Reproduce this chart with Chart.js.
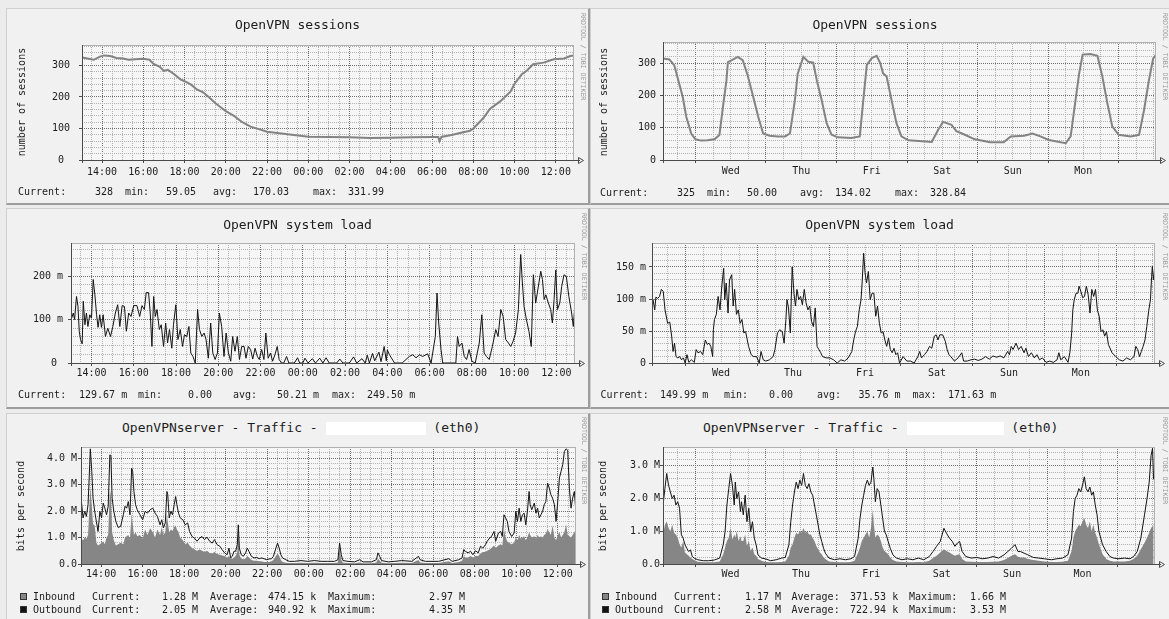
<!DOCTYPE html>
<html><head><meta charset="utf-8">
<script src="https://cdn.jsdelivr.net/npm/chart.js@4/dist/chart.umd.min.js"></script>
<style>
html,body{margin:0;padding:0;background:#ececec;width:1169px;height:619px;overflow:hidden;position:relative;font-family:'DejaVu Sans Mono',monospace;}
.panel{position:absolute;background:#f1f1f1;box-sizing:border-box;border-top:1px solid #d0d0d0;border-left:1px solid #d0d0d0;border-right:2px solid #9c9c9c;border-bottom:2px solid #9c9c9c;}
.t{position:absolute;white-space:pre;color:#1c1c1c;z-index:3;}
.wm{position:absolute;writing-mode:vertical-rl;font-size:6.6px;line-height:7px;color:#9a9a9a;white-space:pre;z-index:3;}
.sq{position:absolute;width:5px;height:5px;border:1px solid #333;z-index:3;}
canvas{position:absolute;z-index:2;}
.hb{display:inline-block;background:#fff;vertical-align:middle;}
</style>
</head><body>
<script>
// ---------------- DATA ----------------
// hour axis for 1-day graphs (24 = 00:00 next day), day axis for week graphs (0 = Wed 00:00)
const dayTickHours  = [14,16,18,20,22,24,26,28,30,32,34,36];
const dayTickLabels = ['14:00','16:00','18:00','20:00','22:00','00:00','02:00','04:00','06:00','08:00','10:00','12:00'];
const weekLabelPos  = [0.5,1.5,2.5,3.5,4.5,5.5];
const weekLabels    = ['Wed','Thu','Fri','Sat','Sun','Mon'];

const sessYTicks = [0,100,200,300];
const sessYLabelsDay = ['0 ','100','200','300'];
const sessYLabelsWeek = ['0','100','200','300'];
const loadDayYTicks = [0,100,200];
const loadDayYLabels = ['0 ','100 m','200 m'];
const loadWeekYTicks = [0,50,100,150];
const loadWeekYLabels = ['0','50 m','100 m','150 m'];
const trafDayYTicks = [0,1,2,3,4];
const trafDayYLabels = ['0.0','1.0 M','2.0 M','3.0 M','4.0 M'];
const trafWeekYTicks = [0,1,2,3];
const trafWeekYLabels = ['0.0','1.0 M','2.0 M','3.0 M'];

// OpenVPN sessions, 1 day
const sessDayT = [13.05,13.3,13.6,13.9,14.1,14.4,14.7,15.0,15.3,15.6,16.0,16.3,16.5,16.8,17.0,17.2,17.5,17.8,18.0,18.3,18.6,18.9,19.2,19.5,19.8,20.0,20.4,20.8,21.2,21.6,22.0,22.5,23.0,23.5,24.0,25.0,26.0,27.0,28.0,29.0,30.0,30.3,30.36,30.45,31.0,31.5,31.84,32.0,32.5,32.8,33.3,33.8,34.0,34.35,34.6,34.9,35.4,35.9,36.4,36.7,36.88];
const sessDayV = [325,322,318,328,332,330,324,322,318,320,321,318,305,296,283,286,272,256,250,240,224,215,198,180,165,155,140,120,106,98,90,86,82,78,74,73,72,70,71,72,73,73,60,73,80,88,93,100,134,162,186,217,242,272,284,304,309,320,322,330,332];

// OpenVPN sessions, 1 week
const sessWeekT = [-0.46,-0.37,-0.30,-0.23,-0.18,-0.13,-0.06,0.0,0.08,0.17,0.27,0.34,0.39,0.44,0.46,0.51,0.6,0.67,0.74,0.82,0.89,0.96,1.05,1.17,1.27,1.34,1.41,1.45,1.53,1.6,1.67,1.72,1.79,1.86,1.93,2.02,2.21,2.33,2.38,2.43,2.5,2.57,2.62,2.66,2.71,2.78,2.85,2.92,3.02,3.35,3.44,3.51,3.63,3.70,3.82,3.96,4.18,4.37,4.47,4.66,4.78,4.89,5.01,5.25,5.32,5.37,5.44,5.49,5.6,5.7,5.77,5.84,5.91,6.0,6.17,6.29,6.36,6.43,6.49,6.53];
const sessWeekV = [314,311,293,236,195,134,82,64,60,61,64,77,164,247,303,308,319,309,262,195,134,82,75,73,73,82,185,267,319,304,301,247,185,114,78,70,68,73,185,294,315,322,300,268,258,186,114,73,61,56,93,118,109,89,78,64,55,55,73,75,82,73,62,52,73,154,267,326,328,322,258,176,104,78,73,78,154,247,314,325];

// OpenVPN system load, 1 day (milli)
const loadDayT = [13.06,13.14,13.2,13.29,13.36,13.42,13.48,13.56,13.61,13.69,13.76,13.83,13.92,14.0,
14.08,14.16,14.24,14.31,14.39,14.47,14.55,14.66,14.77,14.9,15.01,
15.13,15.24,15.34,15.45,15.56,15.65,15.76,15.87,16.0,
16.15,16.28,16.39,16.5,16.59,16.7,16.78,16.86,16.94,17.02,
17.1,17.21,17.3,17.41,17.51,17.6,17.69,17.8,17.88,17.99,
18.09,18.2,18.31,18.4,18.51,18.61,18.7,18.8,18.91,19.02,
19.11,19.22,19.33,19.42,19.53,19.64,19.74,19.85,19.96,20.05,
20.16,20.27,20.37,20.48,20.59,20.68,20.79,20.9,21.0,
21.11,21.22,21.31,21.42,21.53,21.63,21.74,21.85,21.94,22.05,
22.16,22.25,22.36,22.47,22.57,22.68,22.79,22.88,22.99,23.1,23.23,23.34,
23.6,23.75,23.85,24.0,24.1,24.25,24.45,24.6,24.8,24.95,25.1,25.25,25.6,25.75,25.9,26.2,26.4,26.55,26.8,26.95,27.05,27.15,27.3,27.4,27.6,27.7,27.85,27.95,28.0,28.1,
28.34,28.7,29.04,29.2,29.36,29.52,29.67,29.91,30.07,30.27,30.35,30.43,30.54,30.62,
31.24,31.32,31.4,31.53,31.64,31.75,31.87,32.0,32.16,32.35,32.47,32.58,32.69,32.82,32.97,
33.13,33.24,33.37,33.48,33.6,33.73,33.84,33.95,34.07,34.2,34.31,34.39,34.47,34.58,34.7,34.81,34.91,
35.02,35.26,35.34,35.42,35.5,35.62,35.73,35.81,35.89,35.97,36.05,36.16,36.25,36.36,36.47,36.59,36.72,36.8,36.87];
const loadDayV = [103,115,100,153,130,73,54,44,142,88,115,84,111,103,
192,157,111,82,111,82,111,61,80,61,84,
115,134,84,132,130,73,115,107,132,
132,107,132,123,162,162,115,38,153,107,
123,77,88,38,92,46,77,34,88,134,
54,77,38,65,61,84,23,15,0,123,
77,61,69,54,11,92,23,8,23,115,
84,15,69,23,4,61,27,61,8,
38,38,11,38,31,9,34,15,8,31,
8,69,11,23,4,19,38,8,0,0,15,0,
0,12,0,0,11,0,10,0,11,0,12,0,0,9,0,0,14,0,10,0,18,0,22,5,25,3,38,5,30,19,
0,0,15,19,12,19,15,21,0,61,161,92,31,0,
0,61,38,46,15,8,31,4,0,46,111,23,15,8,38,
77,61,123,107,54,46,38,50,69,123,249.5,184,130,100,73,38,203,
138,211,192,146,157,138,123,92,146,214,123,138,176,203,199,153,115,84,130];

// OpenVPN system load, 1 week (milli)
const loadWeekT = [-0.447,-0.422,-0.406,-0.381,-0.355,-0.330,-0.304,-0.279,-0.243,-0.213,-0.187,-0.167,-0.147,-0.126,-0.101,-0.075,-0.050,-0.024,0.001,
0.026,0.052,0.088,0.128,0.154,0.179,0.215,0.245,0.281,0.307,0.332,0.357,0.383,0.393,0.408,0.434,0.459,0.485,0.510,0.536,
0.551,0.571,0.597,0.617,0.648,0.668,0.688,0.714,0.739,0.765,0.790,0.816,0.841,0.882,0.918,0.953,0.994,1.030,1.055,1.086,
1.121,1.172,1.223,1.248,1.284,1.315,1.350,1.376,1.401,1.416,1.437,1.462,1.488,1.513,1.534,1.554,1.580,1.605,1.630,1.656,
1.681,1.707,1.732,1.757,1.783,1.808,1.834,1.859,1.885,1.910,1.961,2.012,2.063,2.114,2.165,2.216,2.267,2.317,2.343,2.368,
2.394,2.420,2.445,2.460,2.481,2.501,2.521,2.547,2.572,2.598,2.623,2.649,2.674,2.700,2.725,2.751,2.776,2.801,2.827,2.852,
2.878,2.903,2.929,2.954,2.980,3.030,3.081,3.132,3.183,3.234,3.260,3.285,3.326,3.361,3.397,3.428,3.463,3.489,3.514,3.539,
3.580,3.616,3.641,3.667,3.692,3.743,3.794,3.845,3.870,3.921,3.972,4.023,4.074,4.125,4.176,4.227,4.278,4.328,4.379,4.430,
4.481,4.507,4.532,4.558,4.599,4.634,4.670,4.711,4.736,4.772,4.812,4.853,4.889,4.925,4.965,5.016,5.067,5.118,5.169,5.194,
5.220,5.271,5.321,5.347,5.372,5.388,5.408,5.433,5.459,5.474,5.500,5.525,5.550,5.576,5.601,5.627,5.652,5.678,5.703,5.729,
5.754,5.780,5.805,5.831,5.856,5.882,5.933,5.984,6.035,6.085,6.136,6.187,6.238,6.264,6.289,6.315,6.340,6.365,6.391,6.416,
6.442,6.467,6.483,6.493,6.508,6.524,6.53];
const loadWeekV = [100,83,103,101,104,115,112,83,62,64,42,18,31,10,8,10,5,8,0,
13,1,5,1,21,16,18,13,36,29,31,26,10,52,68,76,104,83,120,148,
99,125,78,130,138,89,115,76,83,62,68,47,49,26,13,10,10,0,18,5,
3,5,10,21,47,52,49,31,68,99,86,47,150,109,89,115,99,104,91,115,
94,83,89,65,57,86,26,21,16,10,8,8,5,0,5,3,8,18,36,49,
57,83,99,125,171.6,141,125,143,99,109,109,73,89,62,47,49,36,26,39,21,
16,23,13,16,0,10,3,3,0,10,18,8,13,18,26,23,42,44,36,44,
44,34,21,13,10,3,8,16,3,3,5,6,4,6,10,6,11,9,11,8,
18,13,26,21,31,21,26,16,23,10,16,8,13,5,8,1,3,1,5,16,
5,10,1,16,47,83,99,109,109,120,112,102,104,120,107,78,115,104,115,83,
73,49,52,42,49,29,16,10,5,3,8,5,10,26,21,10,18,26,36,57,
81,99,135,151,130,146,150];

// Traffic eth0, 1 day (Mbit/s)
const trafDayT = [13.05,13.13,13.21,13.29,13.37,13.45,13.48,13.55,13.61,13.69,
13.77,13.85,13.94,14.02,14.1,14.18,14.26,14.34,14.42,14.47,
14.53,14.61,14.71,14.82,14.94,15.07,15.15,15.23,15.31,15.39,
15.47,15.52,15.58,15.66,15.74,15.87,16.0,16.12,16.23,16.36,
16.49,16.6,16.71,16.84,16.92,17.0,17.09,17.17,17.21,17.28,
17.36,17.44,17.52,17.59,17.65,17.73,17.81,17.94,18.05,18.17,
18.26,18.38,18.49,18.62,18.75,18.86,18.98,19.1,19.23,19.35,
19.46,19.59,19.72,19.83,19.95,20.07,20.16,20.24,20.32,20.4,
20.48,20.56,20.61,20.66,20.75,20.85,20.96,21.04,21.12,21.24,
21.37,21.5,21.61,21.72,21.85,21.98,22.09,22.21,22.3,22.42,
22.5,22.58,22.66,22.74,22.9,23.06,23.31,23.63,23.95,24.27,
24.6,24.92,25.24,25.41,25.49,25.57,25.65,25.89,26.21,26.46,
26.62,27.02,27.26,27.34,27.42,27.51,27.83,28.15,28.48,28.97,
29.29,29.37,29.62,30.26,30.75,30.91,31.23,31.39,31.47,31.55,
31.68,31.8,31.91,32.04,32.17,32.28,32.39,32.52,32.6,32.72,
32.81,32.93,33.01,33.14,33.25,33.33,33.41,33.49,33.57,33.65,
33.78,33.9,33.98,34.06,34.14,34.22,34.3,34.38,34.46,34.54,
34.62,34.67,34.75,34.87,34.95,35.03,35.11,35.19,35.27,35.35,
35.43,35.51,35.59,35.67,35.75,35.84,35.92,36.0,36.08,36.16,
36.24,36.32,36.4,36.48,36.56,36.64,36.72,36.8,36.87];
const trafDayOut = [2.36,1.74,1.99,1.8,2.24,3.75,4.35,3.5,2.49,1.99,
1.61,1.23,1.99,1.74,2.3,2.11,1.86,2.18,4.12,4.1,
2.49,1.99,1.61,1.38,1.42,1.86,2.18,2.11,2.36,1.86,
3.62,3.5,2.74,2.24,2.05,1.86,1.67,1.99,1.92,2.05,
2.11,1.92,1.8,1.48,1.67,1.36,1.55,2.74,2.62,1.74,
1.99,1.86,2.24,2.55,2.24,1.92,1.74,1.67,1.48,1.55,
1.23,1.04,0.98,0.86,0.98,1.04,0.92,1.01,0.86,0.79,
0.92,0.73,0.67,0.54,0.42,0.35,0.6,0.23,0.29,0.48,
0.48,0.73,1.48,0.6,0.35,0.29,0.42,0.6,0.48,0.29,
0.23,0.25,0.2,0.23,0.2,0.16,0.19,0.2,0.29,0.6,
0.79,0.6,0.35,0.23,0.16,0.1,0.1,0.13,0.1,0.13,
0.1,0.1,0.1,0.16,0.79,0.35,0.13,0.1,0.08,0.16,
0.08,0.08,0.16,0.42,0.29,0.13,0.08,0.1,0.13,0.1,
0.29,0.16,0.1,0.1,0.2,0.1,0.16,0.23,0.54,0.48,
0.42,0.48,0.35,0.5,0.42,0.67,0.6,0.73,0.86,0.98,
1.04,1.23,0.86,1.17,1.23,1.04,1.86,1.74,1.61,1.23,
1.04,1.17,1.99,1.61,2.11,1.61,1.86,1.92,1.48,1.99,
2.74,2.24,2.05,2.3,1.92,2.11,1.74,1.86,1.99,2.24,
2.36,3.06,2.87,2.62,2.49,2.24,1.61,2.36,3.25,3.5,
3.75,4.25,4.35,4.3,2.87,2.11,2.49,2.74,2.05];
const trafDayIn = [0.95,0.9,1.0,0.95,1.1,2.4,2.9,2.2,1.5,1.45,
0.8,0.7,0.75,0.8,0.85,0.75,1.0,1.1,2.8,2.6,
1.2,0.9,0.7,0.75,0.8,0.75,1.0,1.05,1.1,0.95,
1.9,1.5,1.1,1.2,1.05,1.1,0.95,1.3,1.1,1.35,
1.2,1.0,1.3,1.1,1.4,1.1,1.2,1.9,1.6,1.2,
1.3,1.25,1.4,1.45,1.3,1.2,1.0,0.9,0.75,0.8,
0.7,0.6,0.55,0.5,0.55,0.5,0.45,0.5,0.42,0.4,
0.45,0.38,0.35,0.32,0.3,0.25,0.3,0.2,0.2,0.25,
0.3,0.45,1.2,0.35,0.2,0.18,0.2,0.3,0.25,0.15,
0.12,0.12,0.1,0.1,0.08,0.08,0.08,0.1,0.15,0.3,
0.4,0.3,0.15,0.08,0.05,0.04,0.04,0.05,0.04,0.05,
0.04,0.04,0.04,0.06,0.6,0.15,0.05,0.04,0.03,0.06,
0.03,0.03,0.06,0.2,0.12,0.05,0.03,0.04,0.05,0.04,
0.15,0.06,0.04,0.04,0.1,0.04,0.08,0.12,0.3,0.25,
0.25,0.3,0.25,0.3,0.3,0.4,0.45,0.45,0.5,0.55,
0.6,0.7,0.6,0.7,0.75,0.7,1.3,1.0,0.85,0.8,
0.75,0.8,1.0,0.9,1.1,0.95,1.0,1.05,0.9,1.0,
1.2,1.1,1.0,1.05,0.95,1.1,1.0,1.05,1.0,1.1,
1.15,1.3,1.2,1.1,1.45,1.0,0.9,1.1,1.2,1.0,
1.1,1.2,1.5,1.1,1.05,1.0,1.1,1.2,1.28];

// Traffic eth0, 1 week (Mbit/s)
const trafWeekT = [-0.459,-0.433,-0.407,-0.381,-0.355,-0.329,-0.303,-0.277,-0.251,-0.225,
-0.199,-0.174,-0.148,-0.122,-0.096,-0.070,-0.044,-0.018,0.034,0.111,
0.189,0.267,0.345,0.396,0.422,0.448,0.474,0.500,0.526,0.552,
0.567,0.588,0.614,0.640,0.655,0.681,0.707,0.733,0.759,0.785,
0.811,0.837,0.863,0.889,0.940,0.992,1.070,1.148,1.225,1.277,
1.329,1.355,1.381,1.407,1.433,1.459,1.484,1.510,1.536,1.562,
1.588,1.614,1.640,1.666,1.692,1.718,1.744,1.769,1.795,1.821,
1.847,1.899,1.977,2.054,2.132,2.210,2.262,2.313,2.339,2.365,
2.391,2.417,2.443,2.469,2.495,2.521,2.536,2.557,2.583,2.609,
2.635,2.661,2.687,2.712,2.738,2.769,2.806,2.857,2.935,3.013,
3.090,3.168,3.246,3.324,3.376,3.427,3.479,3.531,3.567,3.609,
3.650,3.687,3.723,3.754,3.790,3.842,3.920,3.997,4.075,4.153,
4.231,4.308,4.386,4.438,4.490,4.541,4.583,4.619,4.671,4.723,
4.800,4.878,4.956,5.060,5.137,5.215,5.293,5.345,5.371,5.396,
5.422,5.448,5.474,5.500,5.526,5.552,5.578,5.604,5.630,5.655,
5.681,5.707,5.733,5.759,5.785,5.837,5.889,5.940,6.018,6.096,
6.174,6.226,6.277,6.329,6.381,6.417,6.448,6.474,6.495,6.510];
const trafWeekOut = [1.8,2.3,2.76,2.4,2.2,2.0,2.1,1.8,1.9,1.7,
0.89,0.79,0.59,0.48,0.38,0.43,0.23,0.18,0.13,0.1,
0.1,0.12,0.18,0.59,0.99,1.8,2.3,2.76,2.4,1.8,
2.5,2.0,2.2,1.6,1.9,1.5,2.1,1.29,1.7,0.99,
1.29,0.79,0.59,0.28,0.18,0.16,0.1,0.13,0.18,0.2,
0.59,1.29,1.8,2.2,2.5,2.3,2.56,2.4,2.76,2.4,
2.3,2.45,2.2,2.1,1.8,1.5,1.19,0.89,0.69,0.48,
0.33,0.18,0.13,0.16,0.13,0.16,0.23,0.79,1.39,1.8,
2.1,2.4,2.56,2.4,2.5,2.96,2.6,1.9,2.3,2.2,
1.8,1.39,0.99,0.89,0.69,0.48,0.28,0.18,0.13,0.16,
0.13,0.18,0.13,0.23,0.38,0.54,0.69,1.09,0.94,0.79,
0.69,0.54,0.64,0.69,0.38,0.23,0.18,0.2,0.16,0.18,
0.23,0.18,0.28,0.38,0.48,0.59,0.38,0.38,0.33,0.28,
0.2,0.18,0.16,0.13,0.16,0.18,0.28,0.79,1.6,2.0,
2.1,2.3,2.2,2.4,2.66,2.3,2.2,2.35,2.1,2.2,
1.8,1.5,0.99,0.79,0.59,0.38,0.23,0.18,0.16,0.18,
0.16,0.23,0.38,0.79,1.5,2.0,2.5,3.31,3.53,2.58];
const trafWeekIn = [0.9,1.2,1.3,1.1,1.0,1.2,0.95,0.9,0.8,0.6,
0.5,0.7,0.35,0.3,0.25,0.2,0.15,0.12,0.07,0.05,
0.05,0.05,0.08,0.3,0.5,0.7,0.8,1.1,0.75,0.9,
0.8,1.0,0.7,0.85,0.7,0.7,0.9,0.55,0.7,0.4,
0.5,0.3,0.25,0.15,0.1,0.06,0.05,0.05,0.06,0.08,
0.25,0.5,0.6,0.8,0.95,0.9,1.0,0.95,1.1,0.95,
1.0,0.9,0.9,0.8,0.7,0.55,0.45,0.35,0.3,0.2,
0.15,0.08,0.06,0.05,0.05,0.06,0.1,0.35,0.5,0.7,
0.8,0.9,1.0,0.8,1.1,1.66,1.2,0.8,0.9,0.85,
0.7,0.5,0.4,0.35,0.3,0.2,0.12,0.08,0.06,0.05,
0.05,0.06,0.05,0.1,0.18,0.25,0.35,0.45,0.4,0.35,
0.3,0.25,0.28,0.3,0.15,0.08,0.07,0.06,0.06,0.06,
0.07,0.08,0.12,0.18,0.25,0.3,0.22,0.2,0.2,0.15,
0.12,0.1,0.08,0.06,0.06,0.07,0.1,0.4,0.8,1.0,
1.1,1.2,1.15,1.3,1.4,1.2,1.1,1.3,1.0,1.2,
0.95,0.8,0.6,0.45,0.3,0.15,0.1,0.08,0.08,0.08,
0.1,0.15,0.25,0.45,0.65,0.8,0.95,1.1,1.15,1.17];

// ---------------- RENDERING ----------------
const MAJOR='#6e6e6e', MINOR='#b2b2b2', AXIS='#4a4a4a', PLOTBG='#f6f6f6', TXT='#1c1c1c';
Chart.defaults.font.family="'DejaVu Sans Mono', monospace";
Chart.defaults.font.size=10;
Chart.defaults.color=TXT;

function isMult(v,s){const r=v/s;return Math.abs(r-Math.round(r))<1e-6;}
function range(a,b,s){const o=[];const k0=Math.ceil(a/s-1e-9),k1=Math.floor(b/s+1e-9);for(let k=k0;k<=k1;k++)o.push(+(k*s).toFixed(6));return o;}
function lookup(v,pos,lab){for(let i=0;i<pos.length;i++)if(Math.abs(pos[i]-v)<1e-6)return lab[i];return '';}
function pts(T,V){return T.map((t,i)=>({x:t,y:V[i]}));}

const rrdPlugin={id:'rrd',
  beforeDraw(ch){const c=ch.ctx,a=ch.chartArea;c.save();c.fillStyle=PLOTBG;c.fillRect(a.left,a.top,a.right-a.left,a.bottom-a.top);c.restore();},
  afterDraw(ch){const c=ch.ctx,a=ch.chartArea;c.save();c.lineWidth=1;
    c.strokeStyle='#b0b0b0';c.beginPath();c.moveTo(a.left,a.top+0.5);c.lineTo(a.right,a.top+0.5);c.moveTo(a.right-0.5,a.top);c.lineTo(a.right-0.5,a.bottom);c.stroke();
    const y0=Math.round(ch.scales.y.getPixelForValue(0))+0.5, x0=Math.round(a.left)+0.5;
    c.strokeStyle=AXIS;c.beginPath();c.moveTo(a.left-3,y0);c.lineTo(a.right+6,y0);c.moveTo(x0,a.bottom+3);c.lineTo(x0,a.top);c.stroke();
    c.beginPath();c.moveTo(a.right+4.5,y0-3);c.lineTo(a.right+9.5,y0);c.lineTo(a.right+4.5,y0+3);c.closePath();c.stroke();
    c.restore();}
};

function makeChart(cfg){
  const C=cfg.canvas,P=cfg.plot;
  const cv=document.createElement('canvas');
  cv.width=C.w;cv.height=C.h;cv.style.left=C.x+'px';cv.style.top=C.y+'px';cv.style.width=C.w+'px';cv.style.height=C.h+'px';
  document.body.appendChild(cv);
  const yW=P.l-C.x, xH=20;
  const pad={left:0,top:P.t-C.y,right:C.x+C.w-P.r,bottom:C.y+C.h-P.b-xH};
  const X=cfg.x,Y=cfg.y;
  const xt=range(X.min,X.max,X.minor);
  const yt=range(0,Y.max,Y.minor); if(Math.abs(yt[yt.length-1]-Y.max)>1e-6) yt.push(Y.max);
  new Chart(cv,{type:'line',data:{datasets:cfg.datasets},
    options:{responsive:false,animation:false,devicePixelRatio:1,layout:{padding:pad},
      plugins:{legend:{display:false},tooltip:{enabled:false},title:{display:false}},
      elements:{point:{radius:0},line:{tension:0}},
      scales:{
        x:{type:'linear',min:X.min,max:X.max,
          afterFit:s=>{s.height=xH;},
          afterBuildTicks:s=>{s.ticks=xt.map(v=>({value:v}));},
          grid:{color:c=>(c.tick&&isMult(c.tick.value,X.major))?MAJOR:MINOR,lineWidth:1,drawTicks:true,tickLength:3,
                tickColor:c=>(c.tick&&isMult(c.tick.value,X.major))?AXIS:'rgba(0,0,0,0)'},
          border:{display:false,dash:[1,1]},
          ticks:{autoSkip:false,maxRotation:0,minRotation:0,padding:X.lp-3,callback:v=>lookup(v,X.pos,X.labels)}},
        y:{type:'linear',min:0,max:Y.max,
          afterFit:s=>{s.width=yW;},
          afterBuildTicks:s=>{s.ticks=yt.map(v=>({value:v}));},
          grid:{color:c=>{if(!c.tick)return MINOR;const v=c.tick.value;if(Math.abs(v-Y.max)<1e-6&&!isMult(v,Y.minor))return 'rgba(0,0,0,0)';return isMult(v,Y.major)?MAJOR:MINOR;},
                lineWidth:1,drawTicks:true,tickLength:3,
                tickColor:c=>(c.tick&&isMult(c.tick.value,Y.major))?AXIS:'rgba(0,0,0,0)'},
          border:{display:false,dash:[1,1]},
          ticks:{autoSkip:false,padding:Y.gap-3,callback:v=>lookup(v,Y.pos,Y.labels)}}
      }},
    plugins:[rrdPlugin]});
}

function panel(x,y,w,h){const d=document.createElement('div');d.className='panel';Object.assign(d.style,{left:x+'px',top:y+'px',width:w+'px',height:h+'px'});document.body.appendChild(d);}
function txt(x,yc,s,size,center){const d=document.createElement('div');d.className='t';d.textContent=s;const fs=size||10,lh=Math.round(fs*1.2);
  d.style.fontSize=fs+'px';d.style.lineHeight=lh+'px';d.style.top=(yc-lh/2)+'px';d.style.left=x+'px';if(center)d.style.transform='translateX(-50%)';document.body.appendChild(d);return d;}
function vtxt(xc,yc,s){const d=document.createElement('div');d.className='t';d.textContent=s;d.style.fontSize='10px';d.style.lineHeight='12px';
  d.style.left=xc+'px';d.style.top=yc+'px';d.style.transform='translate(-50%,-50%) rotate(-90deg)';document.body.appendChild(d);}
function wm(xc,y){const d=document.createElement('div');d.className='wm';d.textContent='RRDTOOL / TOBI OETIKER';d.style.left=(xc-3.5)+'px';d.style.top=y+'px';document.body.appendChild(d);}
function row(yc,tokens){tokens.forEach(t=>txt(t[0],yc,t[1],10,false));}
function sq(x,y,col){const d=document.createElement('div');d.className='sq';d.style.left=x+'px';d.style.top=y+'px';d.style.background=col;document.body.appendChild(d);}
function trafTitle(x,yc,boxW){const d=txt(x,yc,'',13,false);d.textContent='OpenVPNserver - Traffic - ';const b=document.createElement('span');b.className='hb';b.style.width=boxW+'px';b.style.height='13px';d.appendChild(b);d.appendChild(document.createTextNode(' (eth0)'));}

// panels
panel(6,8,584,197); panel(590,8,590,197);
panel(6,208,584,201); panel(590,208,590,201);
panel(6,413,584,220); panel(590,413,590,220);

const DAYX={min:13.03,max:36.88,minor:0.5,major:2,pos:dayTickHours,labels:dayTickLabels};
const WEEKX={min:-0.46,max:6.53,minor:0.25,major:1,pos:weekLabelPos,labels:weekLabels};
const INCOL='#868686', OUTCOL='#141414';

// P1 sessions day
makeChart({canvas:{x:7,y:30,w:582,h:152},plot:{l:82,t:42,r:574,b:160},
  x:Object.assign({lp:6},DAYX),y:{max:365,minor:20,major:100,pos:sessYTicks,labels:sessYLabelsDay,gap:12},
  datasets:[{data:pts(sessDayT,sessDayV),borderColor:'#838383',borderWidth:2,fill:false}]});
// P2 sessions week
makeChart({canvas:{x:591,y:30,w:578,h:152},plot:{l:663,t:42,r:1156,b:160},
  x:Object.assign({lp:5},WEEKX),y:{max:365,minor:20,major:100,pos:sessYTicks,labels:sessYLabelsWeek,gap:7},
  datasets:[{data:pts(sessWeekT,sessWeekV),borderColor:'#838383',borderWidth:2,fill:false}]});
// P3 load day
makeChart({canvas:{x:7,y:232,w:582,h:153},plot:{l:71,t:243,r:575,b:363},
  x:Object.assign({lp:4},DAYX),y:{max:276,minor:20,major:100,pos:loadDayYTicks,labels:loadDayYLabels,gap:8},
  datasets:[{data:pts(loadDayT,loadDayV),borderColor:OUTCOL,borderWidth:1,fill:false}]});
// P4 load week
makeChart({canvas:{x:591,y:232,w:578,h:153},plot:{l:652,t:243,r:1155,b:363},
  x:Object.assign({lp:4},WEEKX),y:{max:187.5,minor:10,major:50,pos:loadWeekYTicks,labels:loadWeekYLabels,gap:6},
  datasets:[{data:pts(loadWeekT,loadWeekV),borderColor:OUTCOL,borderWidth:1,fill:false}]});
// P5 traffic day
makeChart({canvas:{x:7,y:436,w:582,h:150},plot:{l:81,t:447,r:576,b:564},
  x:Object.assign({lp:4},DAYX),y:{max:4.42,minor:0.2,major:1,pos:trafDayYTicks,labels:trafDayYLabels,gap:4},
  datasets:[{data:pts(trafDayT,trafDayOut),borderColor:OUTCOL,borderWidth:1,fill:false,order:0},
            {data:pts(trafDayT,trafDayIn),borderColor:INCOL,borderWidth:0,backgroundColor:INCOL,fill:'origin',order:1}]});
// P6 traffic week
makeChart({canvas:{x:591,y:436,w:578,h:150},plot:{l:663,t:447,r:1155,b:564},
  x:Object.assign({lp:4},WEEKX),y:{max:3.57,minor:0.2,major:1,pos:trafWeekYTicks,labels:trafWeekYLabels,gap:3},
  datasets:[{data:pts(trafWeekT,trafWeekOut),borderColor:OUTCOL,borderWidth:1,fill:false,order:0},
            {data:pts(trafWeekT,trafWeekIn),borderColor:INCOL,borderWidth:0,backgroundColor:INCOL,fill:'origin',order:1}]});

// titles
txt(297.5,25,'OpenVPN sessions',13,true);
txt(875,25,'OpenVPN sessions',13,true);
txt(297.5,225,'OpenVPN system load',13,true);
txt(879.5,225,'OpenVPN system load',13,true);
trafTitle(122,428,100);
trafTitle(703,428,97);

// y axis titles
vtxt(22,102,'number of sessions');
vtxt(604,102,'number of sessions');
vtxt(21,506,'bits per second');
vtxt(603,506,'bits per second');

// watermarks
wm(582.5,13); wm(1164,13); wm(583.5,213); wm(1164,213); wm(583.5,417); wm(1164,417);

// statistics lines
row(192,[[18,'Current:'],[95,'328'],[125,'min:'],[166,'59.05'],[213,'avg:'],[253,'170.03'],[313,'max:'],[348,'331.99']]);
row(192.5,[[600,'Current:'],[677,'325'],[707,'min:'],[747,'50.00'],[800,'avg:'],[835,'134.02'],[895,'max:'],[930,'328.84']]);
row(395,[[18,'Current:'],[79,'129.67 m'],[138,'min:'],[188,'0.00'],[233,'avg:'],[277,'50.21 m'],[332,'max:'],[367,'249.50 m']]);
row(395,[[600.5,'Current:'],[660,'149.99 m'],[724,'min:'],[769,'0.00'],[817,'avg:'],[858.5,'35.76 m'],[912.5,'max:'],[948,'171.63 m']]);

sq(20,593,INCOL); sq(20,606,OUTCOL);
row(597,[[33,'Inbound'],[92,'Current:'],[162,'1.28 M'],[210,'Average:'],[268,'474.15 k'],[328,'Maximum:'],[429,'2.97 M']]);
row(610,[[33,'Outbound'],[92,'Current:'],[162,'2.05 M'],[210,'Average:'],[268,'940.92 k'],[328,'Maximum:'],[429,'4.35 M']]);
sq(602,593,INCOL); sq(602,606,OUTCOL);
row(597,[[615,'Inbound'],[674,'Current:'],[745,'1.17 M'],[791.5,'Average:'],[850,'371.53 k'],[909,'Maximum:'],[970,'1.66 M']]);
row(610,[[615,'Outbound'],[674,'Current:'],[745,'2.58 M'],[791.5,'Average:'],[850,'722.94 k'],[909,'Maximum:'],[970,'3.53 M']]);
</script>
</body></html>
